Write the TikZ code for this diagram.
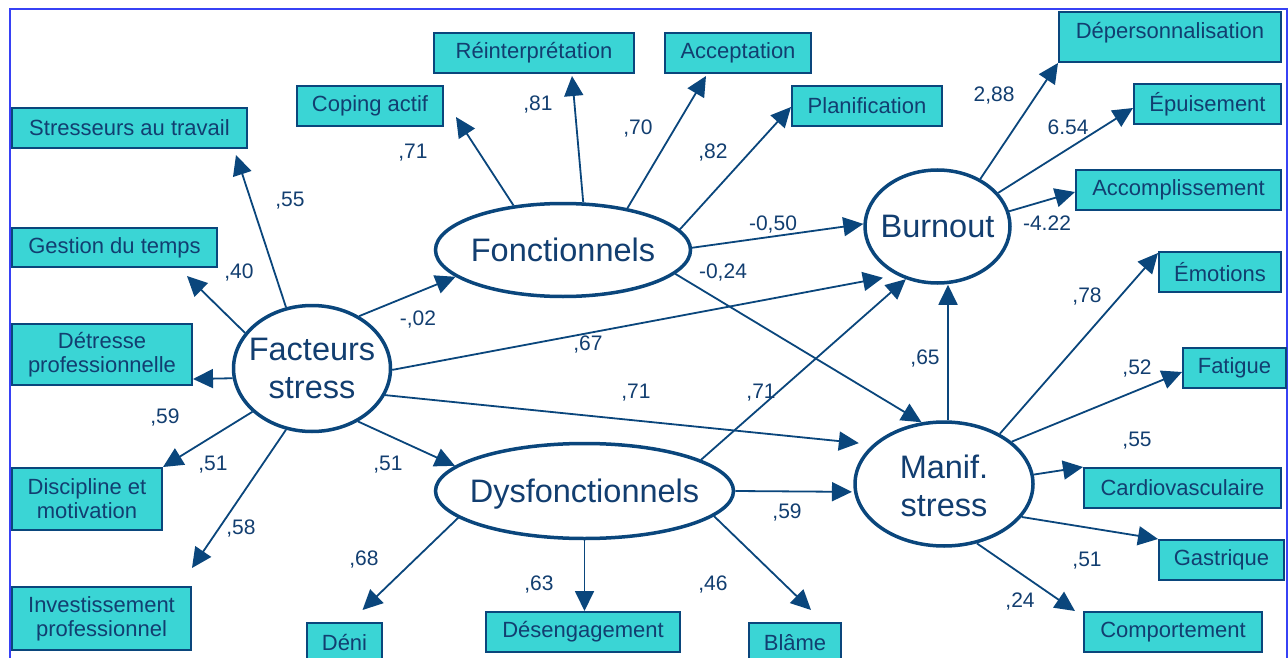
\documentclass[tikz,border=0pt]{standalone}
\usepackage{fontspec}
\setmainfont{Liberation Sans}
\usetikzlibrary{shapes.geometric,arrows.meta,calc}
\definecolor{turq}{RGB}{58,213,213}
\definecolor{navy}{RGB}{10,70,124}
\definecolor{ink}{RGB}{18,62,112}
\definecolor{framec}{RGB}{55,65,245}
\begin{document}
\begin{tikzpicture}[x=1pt,y=-1pt,
  box/.style={draw=navy, fill=turq, line width=2pt, inner sep=0pt, text=ink, font=\fontsize{22}{24}\selectfont, align=center},
  latent/.style={draw=navy, ellipse, line width=3.5pt, inner sep=0pt},
  lattext/.style={text=ink, font=\fontsize{32.5}{38}\selectfont, align=center, inner sep=0pt},
  arr/.style={draw=navy, line width=1.8pt, -{Triangle[length=20pt,width=19pt]}},
  lab/.style={text=ink, font=\fontsize{21}{24}\selectfont, inner sep=0pt, text depth=0pt},
  frameline/.style={draw=framec, line width=1.5pt}
]
\useasboundingbox (0,0) rectangle (1288,658);
\fill[white] (0,0) rectangle (1288,658);
\draw[frameline] (10,658) -- (10,9) -- (1287,9) -- (1287,658);

% boxes left
\node[box, minimum width=235pt, minimum height=40pt] (stres) at (129.5,128) {Stresseurs au travail};
\node[box, minimum width=205pt, minimum height=39pt] (gest) at (114.5,247.5) {Gestion du temps};
\node[box, minimum width=180pt, minimum height=61pt] (detr) at (102,354.5) {D\'etresse\\professionnelle};
\node[box, minimum width=150pt, minimum height=62pt] (disc) at (87,499) {Discipline et\\motivation};
\node[box, minimum width=179pt, minimum height=63pt] (inv) at (101.5,618.5) {Investissement\\professionnel};
% boxes top
\node[box, minimum width=146pt, minimum height=40pt] (cop) at (370,106) {Coping actif};
\node[box, minimum width=200pt, minimum height=40pt] (rein) at (534,53) {R\'einterpr\'etation};
\node[box, minimum width=146pt, minimum height=40pt] (acc) at (738,53) {Acceptation};
\node[box, minimum width=150pt, minimum height=40pt] (plan) at (867,106) {Planification};
% boxes right
\node[box, minimum width=222pt, minimum height=50pt, text depth=14pt] (dep) at (1170,37) {D\'epersonnalisation};
\node[box, minimum width=147pt, minimum height=40pt] (epu) at (1207.5,104) {\'Epuisement};
\node[box, minimum width=205pt, minimum height=40pt] (accomp) at (1178.5,190) {Accomplissement};
\node[box, minimum width=122pt, minimum height=40pt] (emo) at (1220,272) {\'Emotions};
\node[box, minimum width=103pt, minimum height=40pt] (fat) at (1234.5,368) {Fatigue};
\node[box, minimum width=197pt, minimum height=40pt] (card) at (1182.5,488) {Cardiovasculaire};
\node[box, minimum width=125pt, minimum height=40pt] (gast) at (1221.5,560) {Gastrique};
\node[box, minimum width=178pt, minimum height=40pt] (comp) at (1173,632) {Comportement};
% boxes bottom
\node[box, minimum width=75pt, minimum height=40pt] (deni) at (344.5,643) {D\'eni};
\node[box, minimum width=194pt, minimum height=40pt] (deseng) at (583,632) {D\'esengagement};
\node[box, minimum width=92pt, minimum height=40pt] (blame) at (795,643) {Bl\^ame};

% latent variables
\node[latent, minimum width=157pt, minimum height=126pt] (fs) at (312,368.5) {};
\node[lattext] (fst) at (fs) {Facteurs\\stress};
\node[latent, minimum width=255pt, minimum height=93pt] (fonc) at (563,250) {};
\node[lattext, text depth=0pt] (fonct) at (fonc) {Fonctionnels};
\node[latent, minimum width=298pt, minimum height=95pt] (dysf) at (584.5,491) {};
\node[lattext, text depth=0pt] (dysft) at (dysf) {Dysfonctionnels};
\node[latent, minimum width=145pt, minimum height=113pt] (burn) at (937.5,226.5) {};
\node[lattext, text depth=0pt] (burnt) at (burn) {Burnout};
\node[latent, minimum width=178pt, minimum height=124pt] (manif) at (944,484) {};
\node[lattext, yshift=-2pt] (manift) at (manif) {Manif.\\stress};

% Facteurs stress
\draw[arr] (fs.113) -- ([xshift=-12pt,yshift=-6pt]stres.south east);
\draw[arr] (fs.152) -- ([xshift=-31pt,yshift=-8pt]gest.south east);
\draw[arr] (fs.187) -- ([yshift=7pt]detr.south east);
\draw[arr] (fs.216) -- (disc.north east);
\draw[arr] (fs.247) -- ([yshift=18pt]inv.north east);
\draw[arr] (fs.48) -- (fonc.194);
\draw[arr, shorten >=14pt] (fs.-1) -- (burn.230);
\draw[arr, shorten >=14pt] (fs.-20) -- (manif.151);
\draw[arr] (fs.-49) -- (dysf.169);

% Fonctionnels
\draw[arr] (fonc.138) -- ([xshift=12pt,yshift=10pt]cop.south east);
\draw[arr] (fonc.67) -- ([xshift=38pt,yshift=-2pt]rein.south);
\draw[arr] (fonc.33.5) -- ([xshift=-32pt,yshift=-2pt]acc.south);
\draw[arr] (fonc.10) -- ([yshift=-1pt]plan.west);
\draw[arr] (fonc.1) -- (burn.178);
\draw[arr] (fonc.-12) -- (manif.110);

% Dysfonctionnels
\draw[arr] (dysf.15) -- (burn.239);
\draw[arr, shorten >=2pt] (dysf.0) -- (manif.185);
\draw[arr] (dysf.192) -- ([xshift=18pt,yshift=12pt]deni.north);
\draw[arr] (dysf.south) -- (dysf.south |- deseng.north);
\draw[arr] (dysf.-11.4) -- ([xshift=16pt,yshift=12pt]blame.north);

% Burnout
\draw[arr] (burn.48) -- (dep.south west);
\draw[arr] (burn.29.5) -- ([yshift=-4pt]epu.west);
\draw[arr] (burn.12) -- ([yshift=-2pt]accomp.west);

% Manif. stress
\draw[arr] ([xshift=4pt]manif.north) -- ([xshift=4pt]manif.north |- burn.south);
\draw[arr] (manif.42) -- ([yshift=-2pt]emo.north west);
\draw[arr] (manif.32) -- ([yshift=-4pt]fat.west);
\draw[arr] (manif.6) -- (card.north west);
\draw[arr] (manif.-23) -- (gast.north west);
\draw[arr] (manif.-61) -- ([xshift=-8pt]comp.north west);

% labels
\node[lab] (l01) at (290,199) {,55};
\node[lab] (l02) at (239,271) {,40};
\node[lab] (l03) at (165,416) {,59};
\node[lab] (l04) at (213,463) {,51};
\node[lab] (l05) at (241,527) {,58};
\node[lab] (l06) at (418,318) {-,02};
\node[lab] (l07) at (588,343) {,67};
\node[lab] (l08) at (636,391) {,71};
\node[lab] (l09) at (388,463) {,51};
\node[lab] (l10) at (413,151) {,71};
\node[lab] (l11) at (538,103) {,81};
\node[lab] (l12) at (638,127) {,70};
\node[lab] (l13) at (713,151) {,82};
\node[lab] (l14) at (773,223) {-0,50};
\node[lab] (l15) at (723,271) {-0,24};
\node[lab] (l16) at (761,391) {,71};
\node[lab] (l17) at (787,511) {,59};
\node[lab] (l18) at (364,558) {,68};
\node[lab] (l19) at (539,583) {,63};
\node[lab] (l20) at (713,583) {,46};
\node[lab] (l21) at (994,94) {2,88};
\node[lab] (l22) at (1068,127) {6.54};
\node[lab] (l23) at (1047,223) {-4.22};
\node[lab] (l24) at (925,357) {,65};
\node[lab] (l25) at (1087,295) {,78};
\node[lab] (l26) at (1137,367) {,52};
\node[lab] (l27) at (1137,439) {,55};
\node[lab] (l28) at (1087,559) {,51};
\node[lab] (l29) at (1020,600) {,24};
\end{tikzpicture}
\end{document}
